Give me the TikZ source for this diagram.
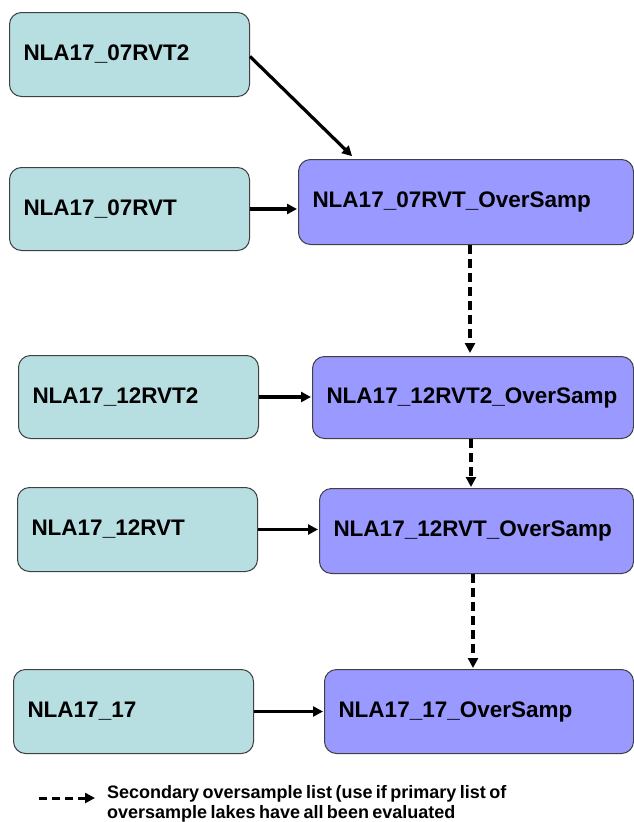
\documentclass[tikz,border=0pt]{standalone}
\usepackage{fontspec}
\setmainfont{Liberation Sans}
\usetikzlibrary{arrows.meta}
\definecolor{srcfill}{RGB}{183,223,226}
\definecolor{osfill}{RGB}{153,153,255}
\definecolor{boxline}{RGB}{64,64,64}
% legend text: bold, slightly tighter word spacing
\newcommand\legendfont{\fontsize{18}{20}\selectfont\bfseries\spaceskip=0.19em\relax}

\begin{document}
\begin{tikzpicture}[x=1pt,y=-1pt,
  listbox/.style={draw=boxline, line width=1pt, rounded corners=12pt,
    anchor=north west, inner xsep=14pt, inner ysep=0pt, align=left,
    font=\fontsize{22.5}{25}\selectfont\bfseries},
  srcbox/.style={listbox, fill=srcfill, text width=212pt},
  osbox/.style={listbox, fill=osfill},
  flow/.style={line width=3.2pt, -{Triangle[length=10pt,width=10pt]}},
  backup/.style={flow, line width=3.3pt, dash pattern=on 9pt off 5pt}]
\useasboundingbox (0,0) rectangle (634,822);

% source lists
\node[srcbox, minimum height=84pt] (b1) at (9,12) {NLA17\_07RVT2};
\node[srcbox, minimum height=83pt] (b2) at (9,167) {NLA17\_07RVT};
\node[srcbox, minimum height=83pt] (b3) at (18,355) {NLA17\_12RVT2};
\node[srcbox, minimum height=84pt] (b4) at (17,487) {NLA17\_12RVT};
\node[srcbox, minimum height=84pt] (b5) at (13,669) {NLA17\_17};

% oversample lists
\node[osbox, text width=307pt, minimum height=85pt] (os1) at (298,159) {NLA17\_07RVT\_OverSamp};
\node[osbox, text width=293pt, minimum height=82pt] (os2) at (312,356) {NLA17\_12RVT2\_OverSamp};
\node[osbox, text width=286pt, minimum height=85pt] (os3) at (319,488) {NLA17\_12RVT\_OverSamp};
\node[osbox, text width=281pt, minimum height=84pt] (os4) at (324,669) {NLA17\_17\_OverSamp};

% primary connections
\draw[flow, shorten >=4pt] ([yshift=-2pt]b1.east) -- ([xshift=57pt]os1.north west);
\draw[flow, shorten >=1pt] (b2.east) -- (b2.east -| os1.west);
\draw[flow, shorten >=1pt] (b3.east) -- (b3.east -| os2.west);
\draw[flow, shorten >=1pt] (b4.east) -- (b4.east -| os3.west);
\draw[flow, shorten >=1pt] (b5.east) -- (b5.east -| os4.west);

% secondary (fallback) connections
\coordinate (d1) at ([xshift=172pt]os1.south west);
\coordinate (d2) at ([xshift=159pt]os2.south west);
\coordinate (d3) at ([xshift=154pt]os3.south west);
\draw[backup, shorten >=3pt] (d1) -- (d1 |- os2.north);
\draw[backup, shorten >=1pt] (d2) -- (d2 |- os3.north);
\draw[backup, shorten >=1pt] (d3) -- (d3 |- os4.north);

% legend
\coordinate (lg1) at (39,798);
\coordinate (lg2) at (95,798);
\draw[backup, line width=3pt, dash pattern=on 8pt off 5pt] (lg1) -- (lg2);
\node[anchor=base west, inner sep=0pt, align=left, font=\legendfont] (lgtext) at (107,818)
  {Secondary oversample list (use if primary list of\\oversample lakes have all been evaluated};
\end{tikzpicture}
\end{document}
